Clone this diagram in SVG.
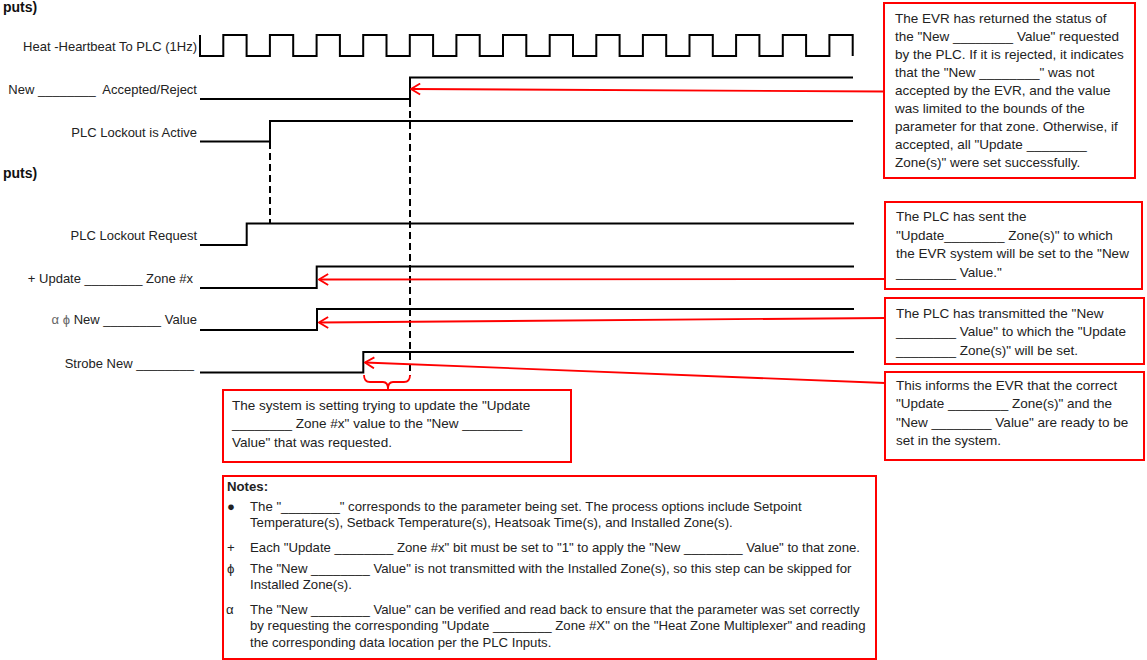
<svg xmlns="http://www.w3.org/2000/svg" width="1147" height="660" viewBox="0 0 1147 660">
<style>
.lbl{font-family:"Liberation Sans",Arial,sans-serif;font-size:13px;fill:#222;text-anchor:end;white-space:pre}
.hdr{font-family:"Liberation Sans",Arial,sans-serif;font-size:14px;font-weight:bold;fill:#111}
.sig{fill:none;stroke:#000;stroke-width:2}
.dash{fill:none;stroke:#000;stroke-width:2;stroke-dasharray:7,4}
.box{fill:#fff;stroke:#f00;stroke-width:2}
.btx{font-family:"Liberation Sans",Arial,sans-serif;font-size:13.5px;fill:#222;white-space:pre}
.ntx{font-family:"Liberation Sans",Arial,sans-serif;font-size:13.2px;fill:#222;white-space:pre}
.red{fill:none;stroke:#f00;stroke-width:1.8}
</style>
<defs>
<marker id="arr" viewBox="0 0 12 14" refX="11" refY="7" markerWidth="11" markerHeight="13" markerUnits="userSpaceOnUse" orient="auto">
<path d="M1,1 L11,7 L1,13" fill="none" stroke="#f00" stroke-width="2"/>
</marker>
</defs>
<rect width="1147" height="660" fill="#fff"/>

<text class="hdr" x="3" y="12">puts)</text>
<text class="hdr" x="3" y="178">puts)</text>

<g id="heartbeat">
<text class="lbl" x="197" y="51">Heat -Heartbeat To PLC (1Hz)</text>
<path class="sig" d="M200,35 V56 H223.3 V35 H246.6 V56 H269.9 V35 H293.2 V56 H316.6 V35 H339.9 V56 H363.2 V35 H386.5 V56 H409.8 V35 H433.1 V56 H456.4 V35 H479.7 V56 H503 V35 H526.3 V56 H549.7 V35 H573 V56 H596.3 V35 H619.6 V56 H642.9 V35 H666.2 V56 H689.5 V35 H712.8 V56 H736.1 V35 H759.4 V56 H782.8 V35 H806.1 V56 H829.4 V35 H852.7 V56"/>
</g>

<g id="accepted">
<text class="lbl" x="197" y="94">New ________  Accepted/Reject</text>
<path class="sig" d="M200,99 H410 V77.5 H853"/>
</g>

<g id="lockout-active">
<text class="lbl" x="197" y="137">PLC Lockout is Active</text>
<path class="sig" d="M200,141.5 H270 V121 H853"/>
</g>

<g id="lockout-request">
<text class="lbl" x="197" y="240">PLC Lockout Request</text>
<path class="sig" d="M200,245 H246.7 V223.5 H854"/>
</g>

<g id="update-zone">
<text class="lbl" x="193" y="283">+ Update ________ Zone #x</text>
<path class="sig" d="M200,288 H316.7 V266.5 H854"/>
</g>

<g id="new-value">
<text class="lbl" x="197" y="324"><tspan fill="#666">α ϕ</tspan> New ________ Value</text>
<path class="sig" d="M200,330 H317 V309 H854"/>
</g>

<g id="strobe">
<text class="lbl" x="194" y="368">Strobe New ________</text>
<path class="sig" d="M200,372.5 H363.3 V352 H854"/>
</g>

<g id="box-status">
<rect class="box" x="884" y="3" width="251" height="175"/>
<text class="btx" x="895" y="23"><tspan x="895">The EVR has returned the status of</tspan><tspan x="895" dy="18">the "New ________ Value" requested</tspan><tspan x="895" dy="18">by the PLC. If it is rejected, it indicates</tspan><tspan x="895" dy="18">that the "New ________" was not</tspan><tspan x="895" dy="18">accepted by the EVR, and the value</tspan><tspan x="895" dy="18">was limited to the bounds of the</tspan><tspan x="895" dy="18">parameter for that zone. Otherwise, if</tspan><tspan x="895" dy="18">accepted, all "Update ________</tspan><tspan x="895" dy="18">Zone(s)" were set successfully.</tspan></text>
</g>

<g id="box-update">
<rect class="box" x="885" y="202" width="257" height="87"/>
<text class="btx" x="896" y="221"><tspan x="896">The PLC has sent the</tspan><tspan x="896" dy="18.5">"Update________ Zone(s)" to which</tspan><tspan x="896" dy="18.5">the EVR system will be set to the "New</tspan><tspan x="896" dy="18.5">________ Value."</tspan></text>
</g>

<g id="box-value">
<rect class="box" x="885" y="298" width="259" height="66"/>
<text class="btx" x="896" y="318"><tspan x="896">The PLC has transmitted the "New</tspan><tspan x="896" dy="18.3">________ Value" to which the "Update</tspan><tspan x="896" dy="18.3">________ Zone(s)" will be set.</tspan></text>
</g>

<g id="box-strobe">
<rect class="box" x="885" y="372" width="259" height="88"/>
<text class="btx" x="896" y="390"><tspan x="896">This informs the EVR that the correct</tspan><tspan x="896" dy="18.3">"Update ________ Zone(s)" and the</tspan><tspan x="896" dy="18.3">"New ________ Value" are ready to be</tspan><tspan x="896" dy="18.3">set in the system.</tspan></text>
</g>

<g id="box-setting">
<rect class="box" x="223" y="390" width="348" height="72"/>
<text class="btx" x="232" y="410"><tspan x="232">The system is setting trying to update the "Update</tspan><tspan x="232" dy="18.3">________ Zone #x" value to the "New ________</tspan><tspan x="232" dy="18.3">Value" that was requested.</tspan></text>
</g>

<g id="notes">
<rect class="box" x="223" y="476" width="653" height="183"/>
<text class="ntx" x="227" y="491" font-weight="bold">Notes:</text>
<text class="ntx" x="227" y="511">●</text>
<text class="ntx" x="250" y="511">The "________" corresponds to the parameter being set. The process options include Setpoint</text>
<text class="ntx" x="250" y="527">Temperature(s), Setback Temperature(s), Heatsoak Time(s), and Installed Zone(s).</text>
<text class="ntx" x="227" y="552">+</text>
<text class="ntx" x="250" y="552">Each "Update ________ Zone #x" bit must be set to "1" to apply the "New ________ Value" to that zone.</text>
<text class="ntx" x="227" y="573">ϕ</text>
<text class="ntx" x="250" y="573">The "New ________ Value" is not transmitted with the Installed Zone(s), so this step can be skipped for</text>
<text class="ntx" x="250" y="589">Installed Zone(s).</text>
<text class="ntx" x="226" y="614">α</text>
<text class="ntx" x="250" y="614">The "New ________ Value" can be verified and read back to ensure that the parameter was set correctly</text>
<text class="ntx" x="250" y="630">by requesting the corresponding "Update ________ Zone #X" on the "Heat Zone Multiplexer" and reading</text>
<text class="ntx" x="250" y="647">the corresponding data location per the PLC Inputs.</text>
</g>

<g id="connectors">
<path class="dash" d="M270,142 V223"/>
<path class="dash" d="M410,100 V376"/>
<path class="red" d="M364,375 Q364,382 370,382 H383 Q388,382 388,389 Q388,382 393,382 H404 Q410,382 410,375"/>
<line class="red" x1="883" y1="91.5" x2="411" y2="89" marker-end="url(#arr)"/>
<line class="red" x1="885" y1="279" x2="319" y2="279.5" marker-end="url(#arr)"/>
<line class="red" x1="885" y1="318" x2="319" y2="322.5" marker-end="url(#arr)"/>
<line class="red" x1="885" y1="383" x2="365" y2="362.5" marker-end="url(#arr)"/>
</g>
</svg>
